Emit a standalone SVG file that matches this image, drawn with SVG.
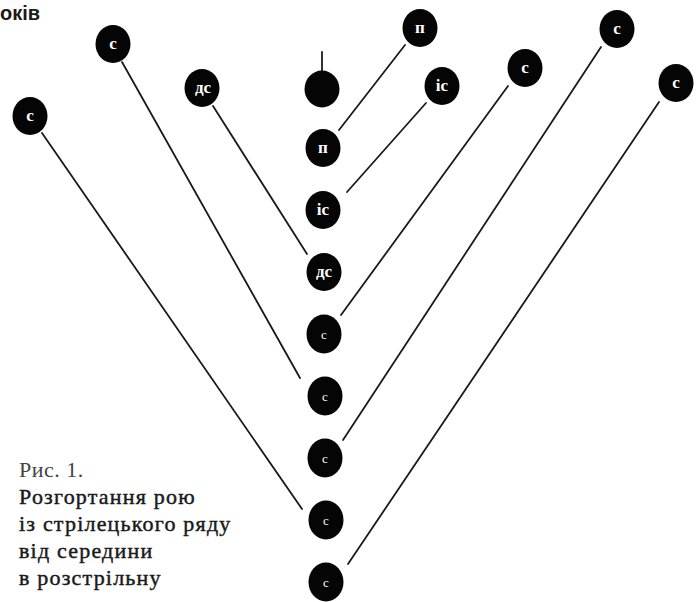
<svg xmlns="http://www.w3.org/2000/svg" width="698" height="602" viewBox="0 0 698 602">
<style>
.n{fill:#050505}
.lb{font-family:"Liberation Serif","Times New Roman",serif;font-size:17px;font-weight:bold;fill:#fff;text-anchor:middle}
.ls{font-family:"Liberation Serif","Times New Roman",serif;font-size:13px;fill:#fff;text-anchor:middle}
.c line{stroke:#1a1a1a;stroke-width:1.8;stroke-linecap:round}
.cap{font-family:"Liberation Serif","Times New Roman",serif;font-size:22px;fill:#1a1a1a;stroke:#1a1a1a;stroke-width:0.45;letter-spacing:1.2px}
</style>
<rect width="698" height="602" fill="#fff"/>
<text x="0" y="20" style="font-family:'Liberation Sans',Arial,sans-serif;font-size:20px;font-weight:bold;fill:#1a1a1a">оків</text>
<g id="connectors" class="c">
<line x1="42" y1="133" x2="302" y2="509"/>
<line x1="122" y1="62" x2="300" y2="378"/>
<line x1="213" y1="106" x2="307" y2="254"/>
<line x1="405" y1="45" x2="339" y2="130"/>
<line x1="426" y1="103" x2="347" y2="192"/>
<line x1="508" y1="86" x2="341" y2="315"/>
<line x1="601" y1="47" x2="343" y2="440"/>
<line x1="659" y1="102" x2="348" y2="564"/>
<line x1="322" y1="52" x2="322" y2="72"/>
</g>
<g id="n-top-c1"><ellipse class="n" cx="30" cy="116" rx="17.5" ry="19"/><text class="lb" x="30" y="121">с</text></g>
<g id="n-top-c2"><ellipse class="n" cx="113" cy="44" rx="17.5" ry="19"/><text class="lb" x="113" y="49">с</text></g>
<g id="n-top-ds"><ellipse class="n" cx="202" cy="88" rx="17.5" ry="19"/><text class="lb" x="203" y="93">дс</text></g>
<g id="n-top-p"><ellipse class="n" cx="420" cy="28" rx="17.5" ry="19"/><text class="lb" x="420" y="33">п</text></g>
<g id="n-top-is"><ellipse class="n" cx="442" cy="86" rx="17.5" ry="19"/><text class="lb" x="442" y="91">іс</text></g>
<g id="n-top-c3"><ellipse class="n" cx="525" cy="68" rx="17.5" ry="19"/><text class="lb" x="525" y="73">с</text></g>
<g id="n-top-c4"><ellipse class="n" cx="617" cy="29" rx="17.5" ry="19"/><text class="lb" x="617" y="34">с</text></g>
<g id="n-top-c5"><ellipse class="n" cx="676" cy="83" rx="17.5" ry="19"/><text class="lb" x="676" y="88">с</text></g>
<g id="n-col-0"><ellipse class="n" cx="322" cy="89" rx="17.5" ry="18.5"/></g>
<g id="n-col-p"><ellipse class="n" cx="323" cy="148" rx="17.5" ry="19"/><text class="lb" x="323" y="153">п</text></g>
<g id="n-col-is"><ellipse class="n" cx="323" cy="210" rx="17.5" ry="19"/><text class="lb" x="323" y="215">іс</text></g>
<g id="n-col-ds"><ellipse class="n" cx="324" cy="272" rx="17.5" ry="19"/><text class="lb" x="324" y="277">дс</text></g>
<g id="n-col-c1"><ellipse class="n" cx="324" cy="334" rx="17.5" ry="19.5"/><text class="ls" x="324" y="339">с</text></g>
<g id="n-col-c2"><ellipse class="n" cx="325" cy="396" rx="17.5" ry="19.5"/><text class="ls" x="325" y="401">с</text></g>
<g id="n-col-c3"><ellipse class="n" cx="325" cy="458" rx="17.5" ry="19.5"/><text class="ls" x="325" y="463">с</text></g>
<g id="n-col-c4"><ellipse class="n" cx="326" cy="520" rx="17.5" ry="19.5"/><text class="ls" x="326" y="525">с</text></g>
<g id="n-col-c5"><ellipse class="n" cx="326" cy="582" rx="17.5" ry="19.5"/><text class="ls" x="326" y="587">с</text></g>
<g id="caption">
<text class="cap" x="19" y="477" style="fill:#444;stroke:none;letter-spacing:0.5px">Рис. 1.</text>
<text class="cap" x="19" y="504">Розгортання рою</text>
<text class="cap" x="19" y="531">із стрілецького ряду</text>
<text class="cap" x="19" y="558">від середини</text>
<text class="cap" x="19" y="585">в розстрільну</text>
</g>
</svg>
